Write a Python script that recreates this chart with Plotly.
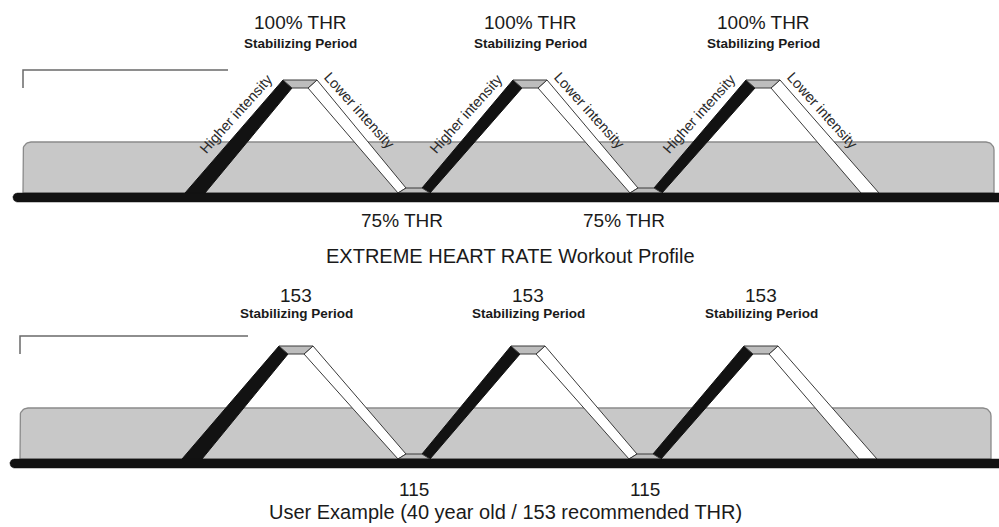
import math
import plotly.graph_objects as go

# ---------------- data ----------------
# Workout profile nodes: start, peak, valley, peak, valley, peak, end
top_times = [195, 300, 414, 530, 646, 763, 870]
top_levels = [75, 100, 75, 100, 75, 100, 75]          # % of THR
bot_times = [192, 296, 414, 528, 645, 761, 868]
bot_levels = [115, 153, 115, 153, 115, 153, 115]      # beats per minute

top_peak_labels = ["100% THR", "100% THR", "100% THR"]
top_valley_labels = ["75% THR", "75% THR"]
bot_peak_labels = ["153", "153", "153"]
bot_valley_labels = ["115", "115"]
peak_sub_label = "Stabilizing Period"
up_label = "Higher intensity"
down_label = "Lower intensity"
top_title = "EXTREME HEART RATE Workout Profile"
bot_title = "User Example (40 year old / 153 recommended THR)"

# ---------------- layout constants (pixels) ----------------
W, H = 999, 527
FONT = "Liberation Sans, Arial, Helvetica, sans-serif"
panels = [
    dict(axis="y", ref="y", times=top_times, levels=top_levels, base_px=193, peak_px=80,
         rect=(23, 994), bracket=(23, 228), line_x0=13,
         peak_labels=top_peak_labels, valley_labels=top_valley_labels, valley_dx=[-12, -22],
         peak_lab_dy=58, sub_dy=37, valley_lab_dy=27, leg_text=True),
    dict(axis="y2", ref="y2", times=bot_times, levels=bot_levels, base_px=459, peak_px=346,
         rect=(20, 991), bracket=(20, 248), line_x0=10,
         peak_labels=bot_peak_labels, valley_labels=bot_valley_labels, valley_dx=[0, 0],
         peak_lab_dy=51, sub_dy=33, valley_lab_dy=30, leg_text=False),
]

CAP_A, CAP_B, CAP_T = 17, 8, 8       # peak cap half widths (outer/inner) and thickness
VAL_C, VAL_D, VAL_T = 16, 8, 5       # valley cap half widths and thickness
END_W = 10                           # half width of ribbon ends on the baseline

fig = go.Figure()
annotations = []


def add_poly(xs, ys, yaxis, fill, line_color=None, lw=0):
    fig.add_trace(go.Scatter(
        x=xs + [xs[0]], y=ys + [ys[0]], yaxis=yaxis, mode="lines", fill="toself",
        fillcolor=fill, line=dict(color=line_color or fill, width=lw),
        hoverinfo="skip", showlegend=False))


def label(x, y, yref, text, size, color="#1a1a1a", angle=0, xref="x"):
    annotations.append(dict(x=x, y=y, xref=xref, yref=yref, text=text, showarrow=False,
                            xanchor="center", yanchor="middle", textangle=angle,
                            font=dict(family=FONT, size=size, color=color)))


for p in panels:
    lo = min(p["levels"])
    hi = max(p["levels"])
    k = (hi - lo) / (p["base_px"] - p["peak_px"])     # units per pixel

    def U(px, p=p, lo=lo, k=k):
        return lo + (p["base_px"] - px) * k

    p["range"] = [U(H), U(0)]
    ybase_px = p["base_px"]
    ya = p["axis"]

    # gray rounded band
    x0, x1 = p["rect"]
    top_px = ybase_px - 51
    r = 8
    xs, ys = [x0], [U(ybase_px)]
    for i in range(0, 11):
        th = math.radians(180 - 9 * i)
        xs.append(x0 + r + r * math.cos(th)); ys.append(U(top_px + r - r * math.sin(th)))
    for i in range(0, 11):
        th = math.radians(90 - 9 * i)
        xs.append(x1 - r + r * math.cos(th)); ys.append(U(top_px + r - r * math.sin(th)))
    xs.append(x1); ys.append(U(ybase_px))
    add_poly(xs, ys, ya, "#c8c8c8", "#8a8a8a", 1.3)

    # bracket
    bx0, bx1 = p["bracket"]
    fig.add_trace(go.Scatter(
        x=[bx0, bx0, bx1], y=[U(ybase_px - 105), U(ybase_px - 123), U(ybase_px - 123)],
        yaxis=ya, mode="lines", line=dict(color="#6a6a6a", width=1.5),
        hoverinfo="skip", showlegend=False))

    t = p["times"]
    lv = p["levels"]
    n = len(t)

    def upper_lower(i, side):
        """(upper point, lower point) of the ribbon at low node i."""
        if i == 0:
            return (t[i] - END_W, U(ybase_px)), (t[i] + END_W, U(ybase_px))
        if i == n - 1:
            return (t[i] + END_W - 1, U(ybase_px)), (t[i] - END_W + 1, U(ybase_px))
        if side > 0:
            return (t[i] + VAL_D, U(ybase_px - VAL_T)), (t[i] + VAL_C, U(ybase_px))
        return (t[i] - VAL_D, U(ybase_px - VAL_T)), (t[i] - VAL_C, U(ybase_px))

    for i in range(n):
        if lv[i] != hi:
            continue
        pk = t[i]
        ytop = lv[i]
        ycap = ytop - CAP_T * k
        # rising leg (black)
        up_u, up_l = upper_lower(i - 1, +1)
        add_poly([up_u[0], pk - CAP_A, pk - CAP_B, up_l[0]],
                 [up_u[1], ytop, ycap, up_l[1]], ya, "#121212", "#121212", 1)
        # falling leg (white)
        dn_u, dn_l = upper_lower(i + 1, -1)
        add_poly([pk + CAP_A, dn_u[0], dn_l[0], pk + CAP_B],
                 [ytop, dn_u[1], dn_l[1], ycap], ya, "#ffffff", "#3a3a3a", 1)
        # cap
        add_poly([pk - CAP_A, pk + CAP_A, pk + CAP_B, pk - CAP_B],
                 [ytop, ytop, ycap, ycap], ya, "#bdbdbd", "#3a3a3a", 1)

    # valley caps
    for i in range(1, n - 1):
        if lv[i] == lo:
            v = t[i]
            add_poly([v - VAL_D, v + VAL_D, v + VAL_C, v - VAL_C],
                     [U(ybase_px - VAL_T), U(ybase_px - VAL_T), U(ybase_px), U(ybase_px)],
                     ya, "#bdbdbd", "#3a3a3a", 1)

    # baseline bar with rounded left end
    th_px = 9
    rr = th_px / 2
    cx, cy = p["line_x0"] + rr, ybase_px + rr
    xs, ys = [], []
    for j in range(0, 13):
        th = math.radians(90 + 15 * j)
        xs.append(cx + rr * math.cos(th)); ys.append(U(cy - rr * math.sin(th)))
    xs += [W, W]; ys += [U(ybase_px + th_px), U(ybase_px)]
    add_poly(xs, ys, ya, "#121212", "#121212", 0.5)

    # labels
    peaks = [t[i] for i in range(n) if lv[i] == hi]
    valleys = [t[i] for i in range(1, n - 1) if lv[i] == lo]
    for pk, lab in zip(peaks, p["peak_labels"]):
        label(pk, U(p["peak_px"] - p["peak_lab_dy"]), p["ref"], lab, 19)
        label(pk, U(p["peak_px"] - p["sub_dy"]), p["ref"], "<b>" + peak_sub_label + "</b>", 13.5)
        if p["leg_text"]:
            label(pk - 64, U(p["peak_px"] + 34), p["ref"], up_label, 14.5, "#2a2a2a", -48)
            label(pk + 59, U(p["peak_px"] + 30), p["ref"], down_label, 14.5, "#2a2a2a", 48)
    for v, dx, lab in zip(valleys, p["valley_dx"], p["valley_labels"]):
        label(v + dx, U(ybase_px + p["valley_lab_dy"]), p["ref"], lab, 19)

label(510, 1 - 256 / H, "paper", top_title, 20)
label(505, 1 - 512 / H, "paper", bot_title, 20)

fig.update_layout(
    width=W, height=H, margin=dict(l=0, r=0, t=0, b=0),
    paper_bgcolor="white", plot_bgcolor="white", showlegend=False,
    xaxis=dict(range=[0, W], visible=False, fixedrange=True),
    yaxis=dict(range=panels[0]["range"], visible=False, fixedrange=True, domain=[0, 1]),
    yaxis2=dict(range=panels[1]["range"], visible=False, fixedrange=True, overlaying="y"),
    annotations=annotations,
)
fig.write_html("out.html", config={"displayModeBar": False},
               post_script="document.body.style.margin='0';document.body.style.overflow='hidden';")
